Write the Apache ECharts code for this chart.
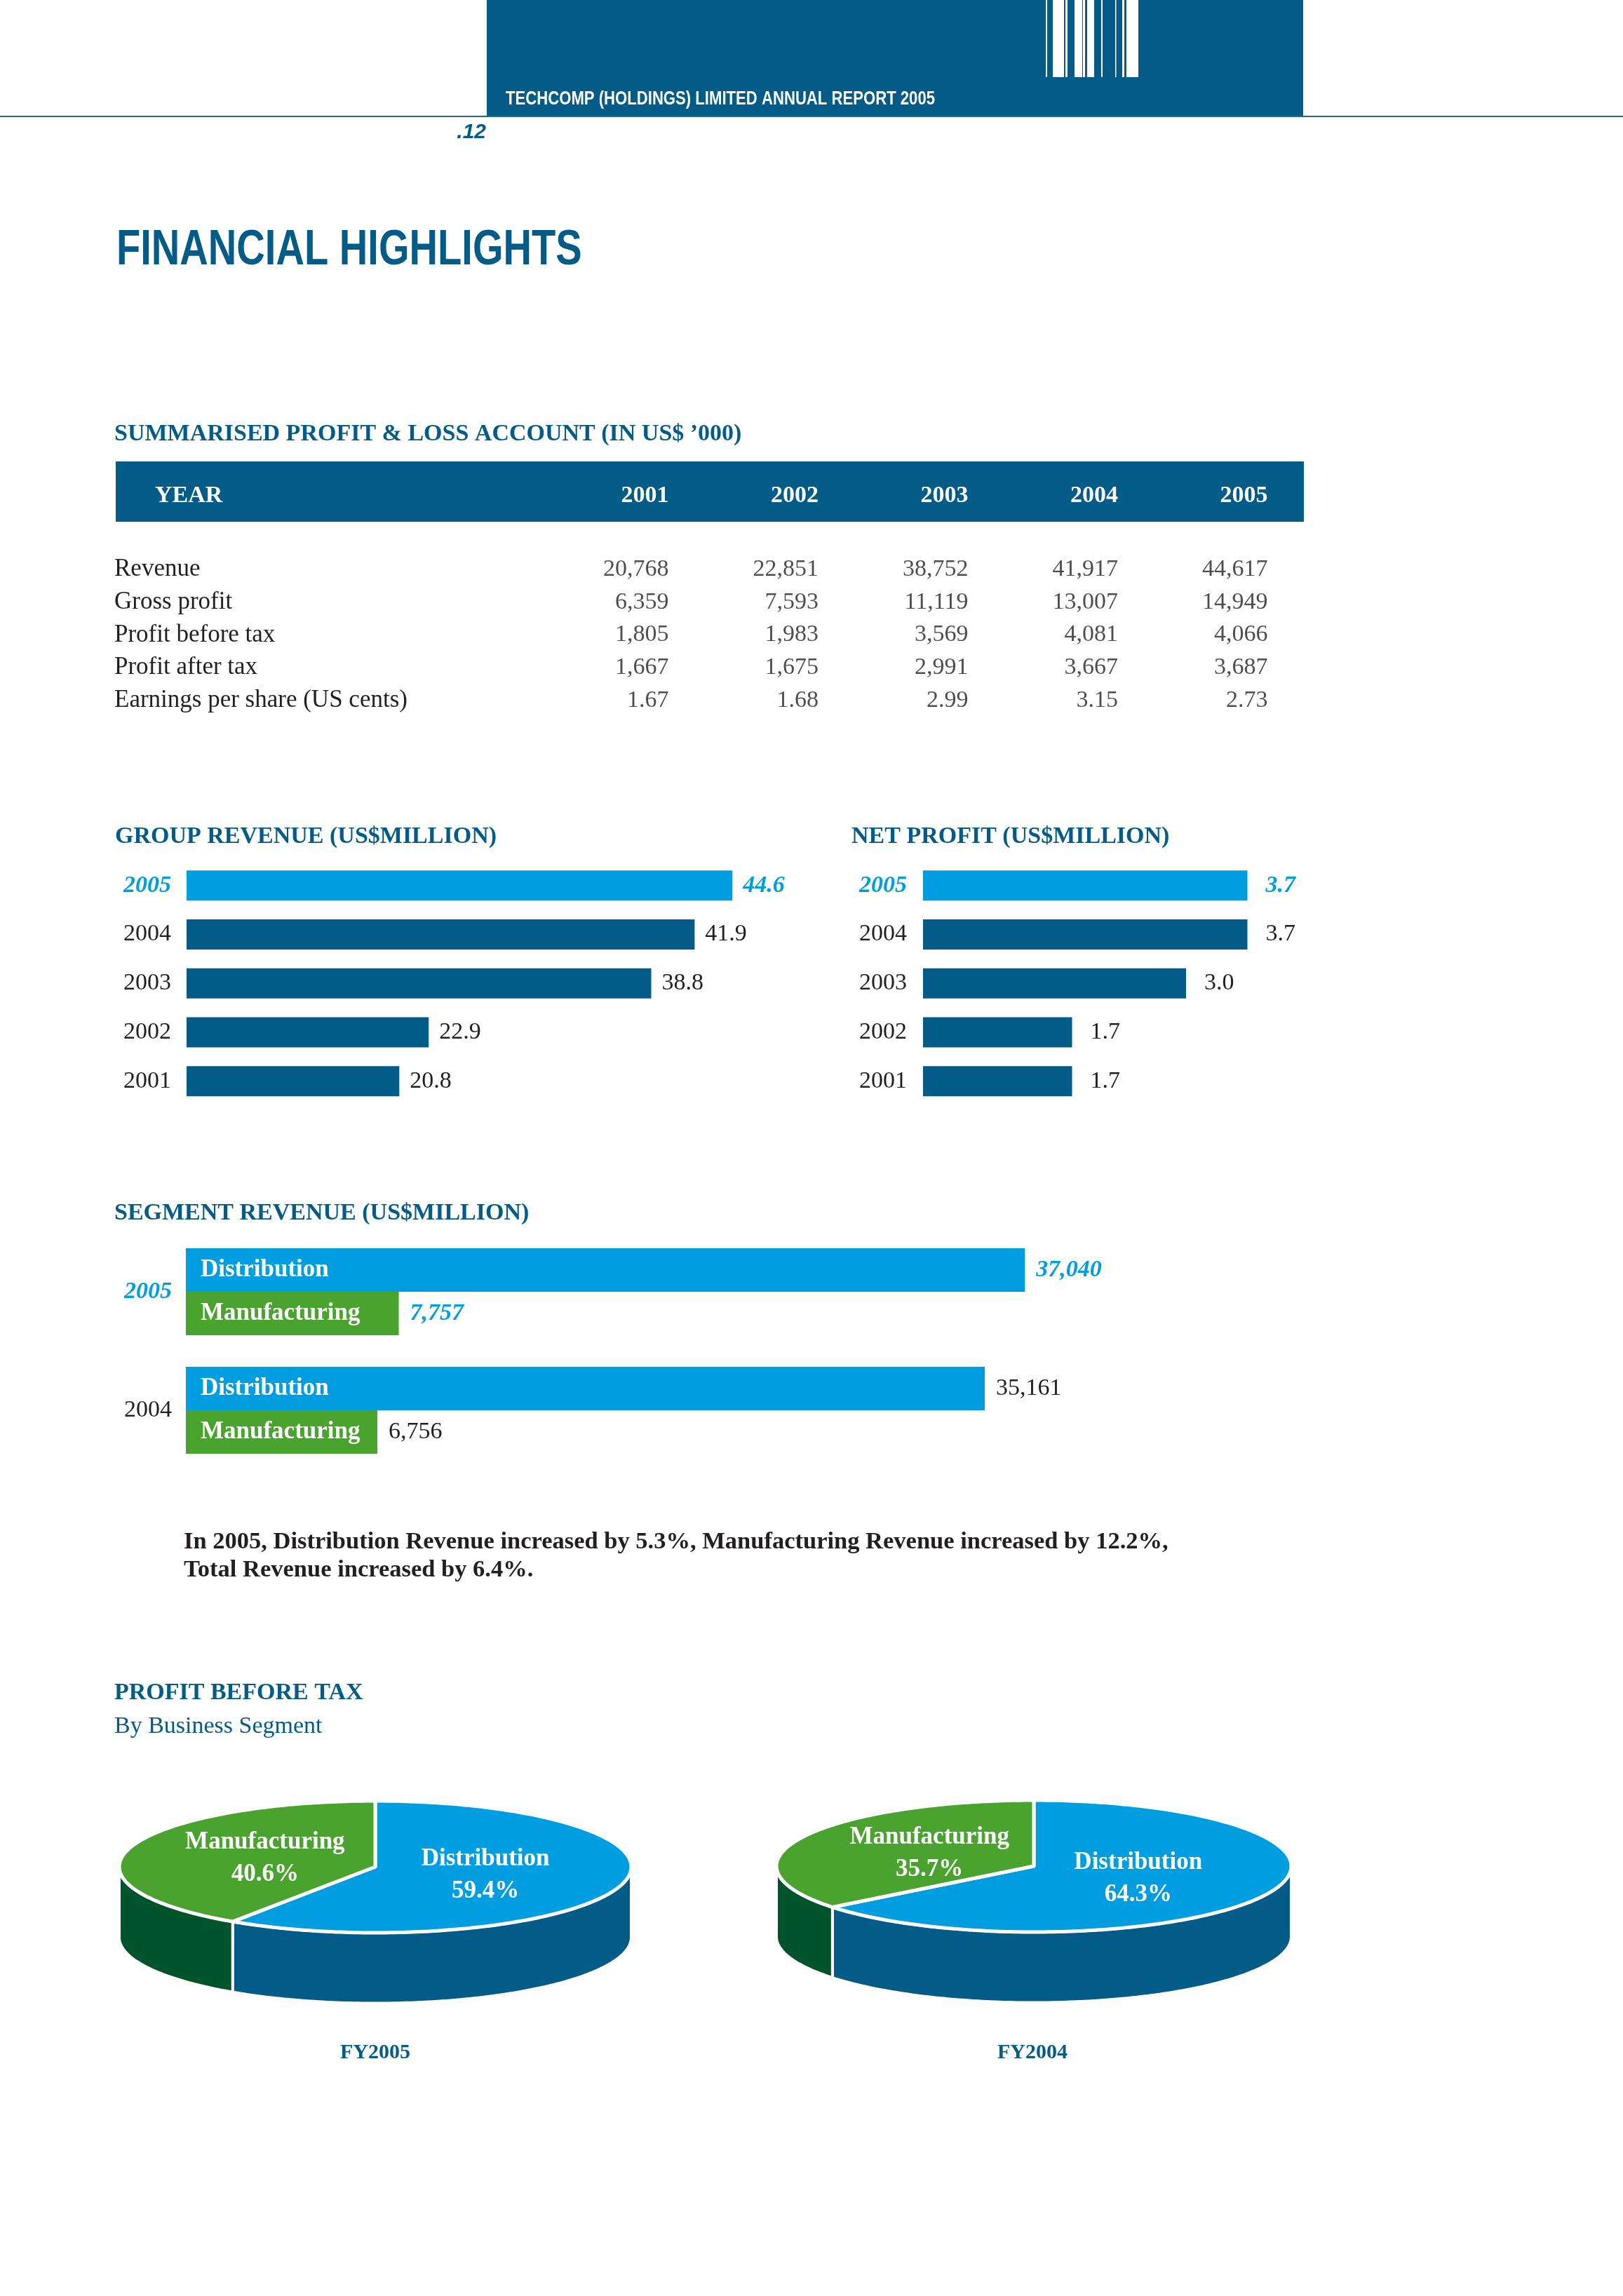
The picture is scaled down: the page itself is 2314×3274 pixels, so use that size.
<!DOCTYPE html>
<html>
<head>
<meta charset="utf-8">
<script src="https://cdn.jsdelivr.net/npm/echarts@6.0.0/dist/echarts.min.js"></script>
<style>
html,body{margin:0;padding:0;background:#fff;}
#main{width:2314px;height:3274px;}
</style>
</head>
<body>
<div id="main"></div>
<script>
// ---------------- DATA ----------------
const years = ['2001', '2002', '2003', '2004', '2005'];
const rowLabels = ['Revenue', 'Gross profit', 'Profit before tax', 'Profit after tax', 'Earnings per share (US cents)'];
const revenue = [20768, 22851, 38752, 41917, 44617];
const grossProfit = [6359, 7593, 11119, 13007, 14949];
const profitBeforeTax = [1805, 1983, 3569, 4081, 4066];
const profitAfterTax = [1667, 1675, 2991, 3667, 3687];
const eps = [1.67, 1.68, 2.99, 3.15, 2.73];

const groupRevenue = [20.8, 22.9, 38.8, 41.9, 44.6];
const netProfit = [1.7, 1.7, 3.0, 3.7, 3.7];

const segYears = ['2004', '2005'];
const segNames = ['Distribution', 'Manufacturing'];
const segDistribution = [35161, 37040];
const segManufacturing = [6756, 7757];

const pieNames = ['Distribution', 'Manufacturing'];
const pbtFY2005 = [59.4, 40.6];
const pbtFY2004 = [64.3, 35.7];
const HIGHLIGHT = '2005';

// ---------------- STYLE ----------------
const SERIF = '"Liberation Serif","Times New Roman",serif';
const SANS = '"Liberation Sans",Arial,sans-serif';
const DARK = '#035b88', LIGHT = '#009ee0', GREEN = '#4aa22f', DKGREEN = '#00532a', INK = '#231f20';
const PIE_D = 1.07; // wall depth in units of vertical radius

const chart = echarts.init(document.getElementById('main'));

const fmtK = v => Number(v).toLocaleString('en-US');
const tableRows = [revenue, grossProfit, profitBeforeTax, profitAfterTax, eps];
const tableData = [];
tableRows.forEach((row, r) => row.forEach((v, c) => tableData.push([c, r, v])));

const hlRich = { hl: { color: LIGHT, fontStyle: 'italic', fontWeight: 'bold', fontFamily: SERIF, fontSize: 34 } };
function yearLabel(margin) {
  return {
    interval: 0, margin: margin, color: INK, fontFamily: SERIF, fontSize: 34,
    formatter: v => v === HIGHLIGHT ? '{hl|' + v + '}' : v,
    rich: hlRich
  };
}
const hiddenCat = { axisLine: { show: false }, axisTick: { show: false }, splitLine: { show: false } };

function barSeries(values, axisIdx, dist) {
  return {
    type: 'bar', xAxisIndex: axisIdx, yAxisIndex: axisIdx, data: values, barWidth: 43,
    itemStyle: { color: p => years[p.dataIndex] === HIGHLIGHT ? LIGHT : DARK },
    label: {
      show: true, position: 'right', distance: dist, color: INK, fontFamily: SERIF, fontSize: 34,
      formatter: p => {
        const t = Number(p.value).toFixed(1);
        return years[p.dataIndex] === HIGHLIGHT ? '{hl|' + t + '}' : t;
      },
      rich: hlRich
    }
  };
}

function pieSeries(values, axisIdx) {
  const total = values.reduce((a, b) => a + b, 0);
  const topColors = [LIGHT, GREEN];
  const wallColors = [DARK, DKGREEN];
  const rad = d => d * Math.PI / 180;
  return {
    type: 'custom', xAxisIndex: axisIdx, yAxisIndex: axisIdx,
    data: values.map((v, i) => [v, i]),
    renderItem: function (params, api) {
      const i = params.dataIndex;
      let before = 0;
      for (let k = 0; k < i; k++) before += values[k];
      const a = -90 + 360 * before / total;
      const b = a + 360 * values[i] / total;
      const arc = (t0, t1, dy) => {
        const pts = [];
        const n = Math.max(2, Math.ceil(Math.abs(t1 - t0)));
        for (let j = 0; j <= n; j++) {
          const t = rad(t0 + (t1 - t0) * j / n);
          pts.push(api.coord([Math.cos(t), Math.sin(t) + dy]));
        }
        return pts;
      };
      const children = [];
      const f0 = Math.max(a, 0), f1 = Math.min(b, 180);
      if (f1 > f0) {
        children.push({
          type: 'polygon', z2: 1,
          shape: { points: arc(f0, f1, 0).concat(arc(f1, f0, PIE_D)) },
          style: { fill: wallColors[i], stroke: '#fff', lineWidth: 4, lineJoin: 'round' }
        });
      }
      children.push({
        type: 'polygon', z2: 2,
        shape: { points: [api.coord([0, 0])].concat(arc(a, b, 0)) },
        style: { fill: topColors[i], stroke: '#fff', lineWidth: 5, lineJoin: 'round' }
      });
      const m = rad((a + b) / 2);
      const lp = api.coord([0.45 * Math.cos(m), 0.45 * Math.sin(m)]);
      children.push({
        type: 'text', z2: 3, x: lp[0], y: lp[1],
        style: {
          text: pieNames[i] + '\n' + values[i].toFixed(1) + '%',
          fill: '#fff', font: 'bold 35px ' + SERIF, lineHeight: 46,
          textAlign: 'center', textVerticalAlign: 'middle', align: 'center', verticalAlign: 'middle'
        }
      });
      return { type: 'group', children: children };
    }
  };
}

const barcode = [[1491, 2], [1501, 16], [1519, 3], [1532, 11], [1544, 3], [1550, 10], [1570, 2], [1590, 1.5], [1600, 3], [1606, 17]];

function txt(x, y, text, font, fill, extra) {
  return Object.assign({
    type: 'text', x: x, y: y,
    style: { text: text, font: font, fill: fill, textVerticalAlign: 'middle', verticalAlign: 'middle' }
  }, extra || {});
}

const graphics = [
  { type: 'rect', shape: { x: 694, y: 0, width: 1164, height: 166 }, style: { fill: DARK } },
  { type: 'rect', shape: { x: 0, y: 165, width: 2314, height: 2 }, style: { fill: '#2b6886' } }
].concat(barcode.map(b => ({ type: 'rect', shape: { x: b[0], y: 0, width: b[1], height: 110 }, style: { fill: '#fff' } })))
 .concat([
  txt(721, 141, 'TECHCOMP (HOLDINGS) LIMITED ANNUAL REPORT 2005', 'bold 28px ' + SANS, '#fff', { scaleX: 0.79 }),
  { type: 'text', x: 693, y: 189, style: { text: '.12', font: 'italic bold 30px ' + SANS, fill: DARK, textAlign: 'right', align: 'right', textVerticalAlign: 'middle', verticalAlign: 'middle' } },
  txt(166, 357.5, 'FINANCIAL HIGHLIGHTS', 'bold 71px ' + SANS, DARK, { scaleX: 0.79 }),
  txt(163, 619, 'SUMMARISED PROFIT & LOSS ACCOUNT (IN US$ \u2019000)', 'bold 34px ' + SERIF, DARK),
  { type: 'rect', shape: { x: 165, y: 658, width: 1694, height: 86 }, style: { fill: DARK } },
  txt(221, 707, 'YEAR', 'bold 34px ' + SERIF, '#fff'),
  txt(164, 1193, 'GROUP REVENUE (US$MILLION)', 'bold 34px ' + SERIF, DARK),
  txt(1214, 1193, 'NET PROFIT (US$MILLION)', 'bold 34px ' + SERIF, DARK),
  txt(163, 1730, 'SEGMENT REVENUE (US$MILLION)', 'bold 34px ' + SERIF, DARK),
  txt(262, 2199, 'In 2005, Distribution Revenue increased by 5.3%, Manufacturing Revenue increased by 12.2%,', 'bold 34.5px ' + SERIF, INK),
  txt(262, 2239, 'Total Revenue increased by 6.4%.', 'bold 34.5px ' + SERIF, INK),
  txt(163, 2414, 'PROFIT BEFORE TAX', 'bold 34px ' + SERIF, DARK),
  txt(163, 2462, 'By Business Segment', '34px ' + SERIF, DARK),
  { type: 'text', x: 535, y: 2927, style: { text: 'FY2005', font: 'bold 30px ' + SERIF, fill: DARK, textAlign: 'center', align: 'center', textVerticalAlign: 'middle', verticalAlign: 'middle' } },
  { type: 'text', x: 1472, y: 2927, style: { text: 'FY2004', font: 'bold 30px ' + SERIF, fill: DARK, textAlign: 'center', align: 'center', textVerticalAlign: 'middle', verticalAlign: 'middle' } }
]);

const option = {
  animation: false,
  backgroundColor: '#fff',
  graphic: { elements: graphics },
  grid: [
    { left: 846.65, top: 788.6, width: 1067.5, height: 233.75 },
    { left: 266, top: 1228, width: 886, height: 348.5 },
    { left: 1316, top: 1228, width: 625, height: 348.5 },
    { left: 265, top: 1757.5, width: 1439, height: 338 },
    { left: 170, top: 2568, width: 730, height: 94 * (2 + PIE_D) },
    { left: 1107, top: 2567, width: 734, height: 94 * (2 + PIE_D) }
  ].map(g => Object.assign(g, { containLabel: false, outerBoundsMode: 'none' })),
  xAxis: [
    Object.assign({ gridIndex: 0, type: 'category', data: years, position: 'top',
      axisLabel: { interval: 0, color: '#fff', fontFamily: SERIF, fontWeight: 'bold', fontSize: 34, align: 'right', verticalAlign: 'middle', margin: 81.6 } }, hiddenCat),
    { gridIndex: 1, type: 'value', min: 5.6, max: 50, show: false, splitLine: { show: false } },
    { gridIndex: 2, type: 'value', min: 0, max: 5, show: false, splitLine: { show: false } },
    { gridIndex: 3, type: 'value', min: -2200, max: 45000, show: false, splitLine: { show: false } },
    { gridIndex: 4, type: 'value', min: -1, max: 1, show: false, splitLine: { show: false } },
    { gridIndex: 5, type: 'value', min: -1, max: 1, show: false, splitLine: { show: false } }
  ],
  yAxis: [
    Object.assign({ gridIndex: 0, type: 'category', data: rowLabels, inverse: true,
      axisLabel: { interval: 0, color: INK, fontFamily: SERIF, fontSize: 35, align: 'left', margin: 683.65 } }, hiddenCat),
    Object.assign({ gridIndex: 1, type: 'category', data: years, axisLabel: yearLabel(22) }, hiddenCat),
    Object.assign({ gridIndex: 2, type: 'category', data: years, axisLabel: yearLabel(23) }, hiddenCat),
    Object.assign({ gridIndex: 3, type: 'category', data: segYears, axisLabel: yearLabel(20) }, hiddenCat),
    { gridIndex: 4, type: 'value', min: -1, max: 1 + PIE_D, inverse: true, show: false, splitLine: { show: false } },
    { gridIndex: 5, type: 'value', min: -1, max: 1 + PIE_D, inverse: true, show: false, splitLine: { show: false } }
  ],
  series: [
    {
      type: 'scatter', xAxisIndex: 0, yAxisIndex: 0, data: tableData, symbolSize: 1,
      itemStyle: { color: 'rgba(0,0,0,0)' },
      label: {
        show: true, position: 'inside', align: 'right', verticalAlign: 'middle',
        color: INK, fontFamily: SERIF, fontSize: 34,
        formatter: p => p.value[1] === 4 ? Number(p.value[2]).toFixed(2) : fmtK(p.value[2])
      }
    },
    barSeries(groupRevenue, 1, 15),
    barSeries(netProfit, 2, 26),
    {
      type: 'custom', xAxisIndex: 3, yAxisIndex: 3,
      data: segYears.map((y, i) => [i, segDistribution[i], segManufacturing[i]]),
      encode: { y: 0, x: [1, 2] },
      renderItem: function (params, api) {
        const cat = api.value(0);
        const vals = [api.value(1), api.value(2)];
        const cs = params.coordSys;
        const c = api.coord([0, cat])[1];
        const band = api.size([0, 1])[1];
        const h = band * 0.367;
        const x0 = cs.x;
        const hl = segYears[cat] === HIGHLIGHT;
        const children = [];
        vals.forEach((v, k) => {
          const x1 = api.coord([v, cat])[0];
          const top = c - h + k * h;
          children.push({ type: 'rect', shape: { x: x0, y: top, width: x1 - x0, height: h }, style: { fill: k === 0 ? LIGHT : GREEN } });
          children.push({ type: 'text', x: x0 + 21, y: top + h / 2, style: { text: segNames[k], fill: '#fff', font: 'bold 35px ' + SERIF, textVerticalAlign: 'middle', verticalAlign: 'middle' } });
          children.push({ type: 'text', x: x1 + 16, y: top + h / 2, style: { text: fmtK(v), fill: hl ? LIGHT : INK, font: (hl ? 'italic bold ' : '') + '34px ' + SERIF, textVerticalAlign: 'middle', verticalAlign: 'middle' } });
        });
        return { type: 'group', children: children };
      }
    },
    pieSeries(pbtFY2005, 4),
    pieSeries(pbtFY2004, 5)
  ]
};
chart.setOption(option);
</script>
</body>
</html>
